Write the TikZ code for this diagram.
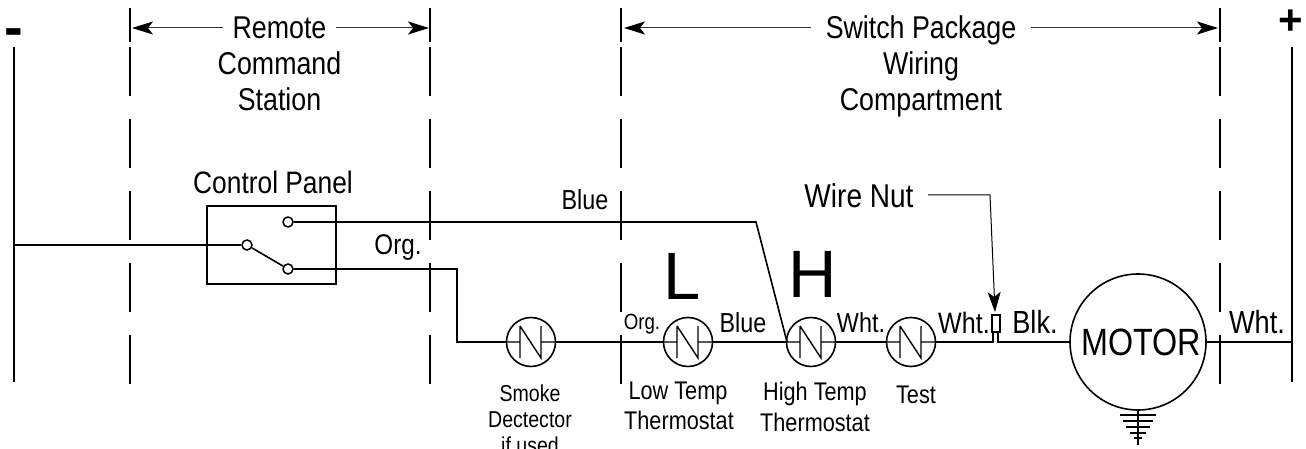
\documentclass[tikz,border=0pt]{standalone}
\usepackage{fontspec}
\setmainfont{Liberation Sans}[FakeStretch=0.85]
\newfontfamily\widefont{Liberation Sans}
\usetikzlibrary{arrows.meta,positioning}

\newcommand{\fsize}[1]{\fontsize{#1}{#1}\selectfont}

\tikzset{
  wire/.style={line width=1.6pt},
  dimline/.style={line width=1pt,black!80,-{Stealth[length=21pt,width=13pt,inset=5pt,fill=black,color=black]}},
  title/.style={font=\fsize{31.5},inner ysep=0pt,inner xsep=9pt,text height=21pt,text depth=0pt},
  tag/.style={font=\fsize{27.5},inner sep=0pt},
  largetag/.style={font=\fsize{32},inner sep=0pt},
  caption/.style={font=\fsize{25.5},inner sep=0pt},
  small/.style={font=\fsize{23},inner sep=0pt},
  contact/.style={circle,draw,line width=1.5pt,minimum size=10pt,inner sep=0pt},
  thermo/.style={circle,draw,line width=1.6pt,minimum size=49pt,inner sep=0pt,
    path picture={
      \draw [line width=1.4pt]
        ([xshift=-24.5pt]path picture bounding box.center) -- ++(13.5,0)
        ++(0,-16) -- ++(0,32)
        ([xshift=-11pt,yshift=16pt]path picture bounding box.center) -- ++(21,32)
        -- ++(0,-32) ++(0,16) -- ++(14.5,0);
    }},
}

\begin{document}
\begin{tikzpicture}[x=1pt,y=-1pt]
  \useasboundingbox (0,0) rectangle (1306,449);

  \foreach \x/\name in {130/a,430/b,621/c,1220/d} {
    \coordinate (\name top) at (\x,8);
    \coordinate (\name mid) at (\x,42);
    \coordinate (\name start) at (\x,47);
    \coordinate (\name end) at (\x,385);
    \draw [line width=1.4pt] (\name top) -- (\name mid);
    \draw [line width=1.4pt,dash pattern=on 49pt off 23pt] (\name start) -- (\name end);
  }

  \coordinate (minus top) at (14,47);
  \coordinate (minus tap) at (14,245);
  \coordinate (minus end) at (14,382);
  \coordinate (plus top) at (1292,47);
  \coordinate (plus tap) at (1292,342);
  \coordinate (plus end) at (1292,382);
  \draw [line width=1.4pt] (minus top) -- (minus end);
  \draw [line width=1.4pt] (plus top) -- (plus end);

  \node [font=\widefont\bfseries\fsize{56},inner sep=0pt] (minus) at (14,38) {-};
  \node [font=\widefont\bfseries\fsize{42},inner sep=0pt] (plus) at (1291,22) {+};

  \node [title] (remote) at (279.5,28) {Remote};
  \node [title,below=14.5pt of remote] (command) {Command};
  \node [title,below=14.5pt of command] (station) {Station};
  \node [title,inner xsep=15pt] (switch) at (921,28) {Switch Package};
  \node [title,below=14.5pt of switch] (wiring) {Wiring};
  \node [title,below=14.5pt of wiring] (compartment) {Compartment};

  \coordinate (a tip) at (132,28);
  \coordinate (b tip) at (429,28);
  \coordinate (c tip) at (624,28);
  \coordinate (d tip) at (1218,28);
  \draw [dimline] (remote) -- (a tip);
  \draw [dimline] (remote) -- (b tip);
  \draw [dimline] (switch) -- (c tip);
  \draw [dimline] (switch) -- (d tip);

  \node [draw,line width=1.6pt,minimum width=129pt,minimum height=78pt,inner sep=0pt] (panel) at (271.5,245) {};
  \node [font=\fsize{31},inner sep=0pt] (panel label) at (273,182.5) {Control Panel};
  \node [contact] (pivot) at (247,245) {};
  \node [contact] (upper) at (288,222) {};
  \node [contact] (lower) at (288,269) {};

  \node [thermo] (smoke) at (531,342) {};
  \node [thermo] (low) at (688,342) {};
  \node [thermo] (high) at (811,342) {};
  \node [thermo] (test) at (911,342) {};
  \node [circle,draw,line width=1.6pt,minimum size=136pt,inner sep=0pt,font=\fsize{38}] (motor) at (1138,342) {\hspace*{6pt}MOTOR};
  \node [draw,line width=1.3pt,minimum width=8pt,minimum height=17pt,inner sep=0pt] (nut) at (996,323.5) {};

  \coordinate (upper bend) at (756,222);
  \coordinate (lower bend) at (457,269);
  \coordinate (lower drop) at (457,342);
  \coordinate (high entry) at (787,342);
  \coordinate (nut left) at (993,342);
  \coordinate (nut right) at (998,342);
  \coordinate (nut left top) at (993,332);
  \coordinate (nut right top) at (998,332);

  \draw [wire] (minus tap) -- (pivot);
  \draw [wire] (pivot) -- (lower);
  \draw [wire] (upper) -- (upper bend) -- (high entry);
  \draw [wire] (lower) -- (lower bend) -- (lower drop) -- (smoke);
  \draw [wire] (smoke) -- (low);
  \draw [wire] (low) -- (high);
  \draw [wire] (high) -- (test);
  \draw [wire] (test) -- (nut left) -- (nut left top);
  \draw [wire] (nut right top) -- (nut right) -- (motor);
  \draw [wire] (motor) -- (plus tap);

  \node [font=\fsize{33},inner sep=0pt] (wire nut) at (859,196) {Wire Nut};
  \coordinate (nut bend) at (990,195);
  \coordinate (nut start) at (928,195);
  \coordinate (nut tip) at (995,312);
  \draw [line width=1pt,-{Stealth[length=20pt,width=13pt,inset=5pt]}] (nut start) -- (nut bend) -- (nut tip);

  \node [tag] (blue top) at (585,200) {Blue};
  \node [font=\fsize{28.5},inner sep=0pt] (org top) at (398,248) {Org.};
  \node [font=\fsize{22},inner sep=0pt] (org low) at (642,324) {Org.};
  \node [tag] (blue low) at (743,323) {Blue};
  \node [tag] (wht a) at (861,323) {Wht.};
  \node [font=\fsize{29.5},inner sep=0pt] (wht b) at (964,323) {Wht.};
  \node [largetag] (blk) at (1035,322) {Blk.};
  \node [largetag] (wht c) at (1257,322) {Wht.};

  \node [font=\widefont\fsize{67},inner sep=0pt] (big l) at (682,276) {L};
  \node [font=\widefont\fsize{67},inner sep=0pt] (big h) at (813,274) {H};

  \node [small] (smoke a) at (530,393) {Smoke};
  \node [small] (smoke b) at (530,420) {Dectector};
  \node [small,anchor=north] (smoke c) at (530,437) {if used};
  \node [caption] (low a) at (678,393) {Low Temp};
  \node [caption] (low b) at (679,420) {Thermostat};
  \node [caption] (high a) at (815,394) {High Temp};
  \node [caption] (high b) at (815,422) {Thermostat};
  \node [caption] (test a) at (916,395) {Test};

  \coordinate (ground end) at (1138,445);
  \draw [line width=1.4pt] (motor) -- (ground end);
  \foreach \y/\w in {415/18,421/15,427/12,433/8,438/4} {
    \draw [line width=1.4pt] (1138-\w,\y) -- (1138+\w,\y);
  }
\end{tikzpicture}
\end{document}
